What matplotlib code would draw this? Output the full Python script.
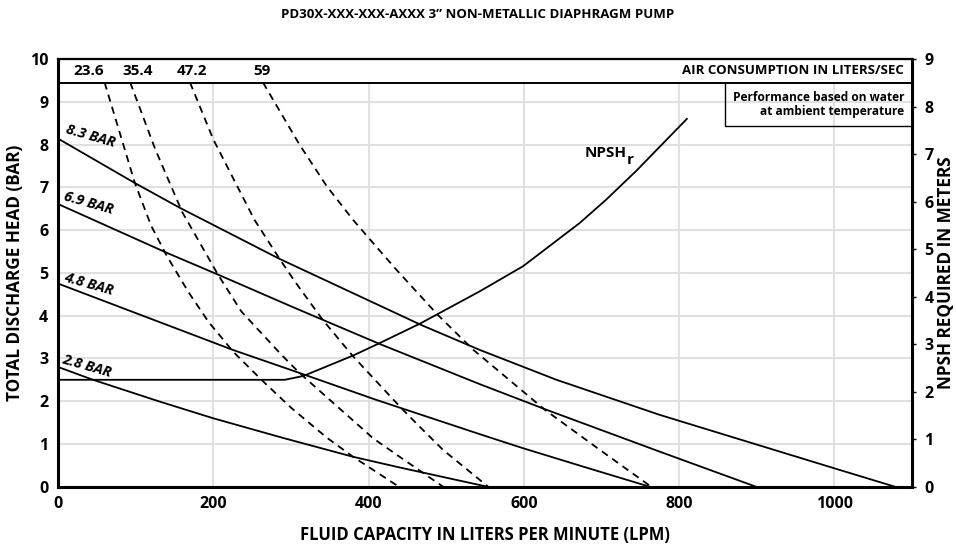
import matplotlib.pyplot as plt

plt.rcParams['font.family'] = ['Open Sans', 'DejaVu Sans']
plt.rcParams['font.weight'] = 'bold'

# pressure curves (LPM, BAR)
bar_labels = ["8.3 BAR", "6.9 BAR", "4.8 BAR", "2.8 BAR"]
q_83 = [0, 99, 157, 285, 468, 543, 642, 775, 1000, 1078]
h_83 = [8.14, 7.1, 6.52, 5.33, 3.78, 3.2, 2.5, 1.68, 0.43, 0]
q_69 = [0, 140, 206, 305, 414, 543, 629, 775, 899]
h_69 = [6.61, 5.47, 4.96, 4.18, 3.34, 2.4, 1.8, 0.82, 0]
q_48 = [0, 225, 311, 410, 543, 599, 680, 762]
h_48 = [4.75, 3.2, 2.66, 2.03, 1.23, 0.9, 0.45, 0]
q_28 = [0, 45, 131, 200, 290, 380, 440, 553]
h_28 = [2.8, 2.5, 1.99, 1.6, 1.14, 0.7, 0.45, 0]

# air consumption curves (liters/sec)
air_labels = ["23.6", "35.4", "47.2", "59"]
q_a1 = [60, 99, 120, 140, 168, 194, 226, 262, 300, 346, 380, 439]
h_a1 = [9.45, 7.1, 6.1, 5.4, 4.55, 3.85, 3.15, 2.5, 1.85, 1.15, 0.7, 0]
q_a2 = [93, 125, 160, 206, 236, 288, 311, 406, 440, 496]
h_a2 = [9.45, 7.9, 6.42, 4.96, 4.1, 3.08, 2.66, 1.13, 0.7, 0]
q_a3 = [170, 200, 253, 286, 305, 341, 380, 442, 466, 496, 554]
h_a3 = [9.45, 8.12, 6.24, 5.31, 4.8, 3.9, 3.05, 1.84, 1.4, 0.86, 0]
q_a4 = [264, 311, 346, 380, 400, 436, 489, 535, 627, 698, 764]
h_a4 = [9.45, 8.0, 7.03, 6.24, 5.82, 5.07, 4.02, 3.2, 1.8, 0.86, 0]

# NPSH required (LPM, meters)
q_npsh = [0, 292, 316, 380, 414, 466, 543, 599, 672, 706, 745, 810]
m_npsh = [2.25, 2.25, 2.33, 2.76, 3.02, 3.43, 4.11, 4.64, 5.55, 6.04, 6.65, 7.74]

x_ticks = [0, 200, 400, 600, 800, 1000]
band_y = 9.45

fig = plt.figure(figsize=(9.56, 5.44), dpi=100)
ax = fig.add_axes([0.0607, 0.1053, 0.8933, 0.7862])
ax.set_xlim(0, 1100)
ax.set_ylim(0, 10)

# grid (stops under the air consumption band)
ax.vlines(x_ticks[1:], 0, band_y, color="#e0e0e0", lw=1.5, zorder=0)
ax.hlines(range(1, 10), 0, 1100, color="#e0e0e0", lw=1.5, zorder=0)

solid = dict(color="black", lw=1.3, zorder=3, solid_joinstyle="round")
for q, h in [(q_83, h_83), (q_69, h_69), (q_48, h_48), (q_28, h_28)]:
    ax.plot(q, h, **solid)

dashed = dict(color="black", lw=1.3, ls=(0, (4, 3)), zorder=3)
for q, h in [(q_a1, h_a1), (q_a2, h_a2), (q_a3, h_a3), (q_a4, h_a4)]:
    ax.plot(q, h, **dashed)

# band on top
ax.axhline(band_y, color="black", lw=1.4, zorder=4)
label_x = [40, 102, 172, 263]
for lx, lab in zip(label_x, air_labels):
    ax.text(lx, 9.72, lab, ha="center", va="center", fontsize=11, fontweight="bold")
ax.text(1090, 9.72, "AIR CONSUMPTION IN LITERS/SEC", ha="right", va="center",
        fontsize=9.5, fontweight="bold")

# note box
ax.plot([859, 859, 1100], [band_y, 8.43, 8.43], color="black", lw=1.0, zorder=4)
ax.text(1090, 8.94, "Performance based on water\nat ambient temperature", ha="right",
        va="center", fontsize=8.6, fontweight="bold", linespacing=1.15)

# pressure labels
label_pos = [(42, 8.2), (39, 6.62), (39, 4.73), (37, 2.83)]
for (lx, ly), lab in zip(label_pos, bar_labels):
    ax.text(lx, ly, lab, ha="center", va="center", rotation=-16, fontsize=10.5,
            fontweight="bold", style="italic")

ax.text(706, 7.81, "NPSH", ha="center", va="center", fontsize=11, fontweight="bold")
ax.text(737, 7.63, "r", ha="center", va="center", fontsize=11, fontweight="bold")

ax.set_xticks(x_ticks)
ax.set_yticks(range(0, 11))
ax.tick_params(axis="both", length=0, labelsize=11.5, pad=7)
for lab in ax.get_xticklabels() + ax.get_yticklabels():
    lab.set_fontweight("bold")
for side in ["left", "bottom", "right"]:
    ax.spines[side].set_linewidth(2.2)
ax.spines["top"].set_linewidth(1.6)

ax.set_xlabel("FLUID CAPACITY IN LITERS PER MINUTE (LPM)", fontsize=12,
              fontweight="bold", labelpad=10)
ax.set_ylabel("TOTAL DISCHARGE HEAD (BAR)", fontsize=12.3, fontweight="bold", labelpad=4.5)

ax2 = ax.twinx()
ax2.set_ylim(0, 9)
ax2.plot(q_npsh, m_npsh, **solid)
ax2.set_yticks(range(0, 10))
ax2.tick_params(axis="y", length=3, width=1, labelsize=11.5, pad=6)
for lab in ax2.get_yticklabels():
    lab.set_fontweight("bold")
ax2.set_ylabel("NPSH REQUIRED IN METERS", fontsize=12.3, fontweight="bold", labelpad=2)

fig.suptitle("PD30X-XXX-XXX-AXXX 3\u201d NON-METALLIC DIAPHRAGM PUMP", y=0.985,
             fontsize=9.5, fontweight="bold")

fig.savefig("out.png", dpi=100)
